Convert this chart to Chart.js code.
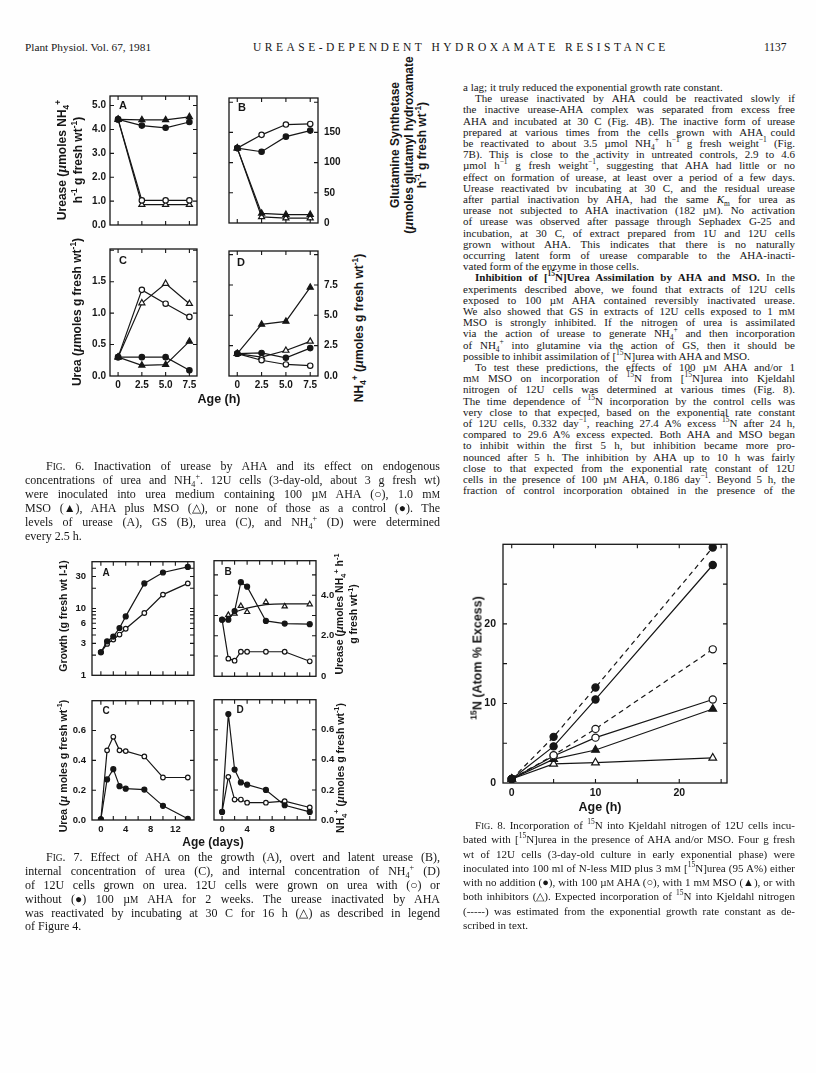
<!DOCTYPE html>
<html>
<head>
<meta charset="utf-8">
<script src="https://cdn.jsdelivr.net/npm/chart.js@4.4.1/dist/chart.umd.min.js"></script>
<style>
body { margin: 0; background: #fff; }
#page { position: relative; width: 816px; height: 1073px; overflow: hidden; background: #fefefe; color: #161616;
        font-family: "Liberation Serif", "Times New Roman", serif; }
.ln { position: absolute; white-space: nowrap; line-height: 1; }
.ln sup, .ln sub { font-size: 0.68em; line-height: 0; }
.sc { font-size: 0.78em; }
.ttl { position: absolute; white-space: nowrap; text-align: center; font-family: "Liberation Sans", Arial, sans-serif;
       font-weight: bold; font-size: 12px; line-height: 15px; transform: translate(-50%, -50%) rotate(-90deg); }
.ttl sup, .ttl sub { font-size: 0.7em; line-height: 0; }
.xt { position: absolute; white-space: nowrap; font-family: "Liberation Sans", Arial, sans-serif; font-weight: bold;
      font-size: 12.5px; transform: translate(-50%, -50%); }
canvas { position: absolute; }
</style>
</head>
<body>
<div id="page"></div>
<script>
// ---- Fig. 6 : age in hours ----
const ageH = [0, 2.5, 5.0, 7.5];
const ureaseCtrl6 = [4.42, 4.16, 4.07, 4.31];
const ureaseAHA6 = [4.42, 1.03, 1.03, 1.03];
const ureaseMSO6 = [4.42, 4.40, 4.40, 4.53];
const ureaseBoth6 = [4.42, 0.85, 0.85, 0.85];
const gsCtrl6 = [124, 118, 143, 153];
const gsAHA6 = [124, 146, 163, 164];
const gsMSO6 = [124, 16, 14, 14];
const gsBoth6 = [124, 10, 8, 8];
const ureaCtrl6 = [0.30, 0.30, 0.30, 0.09];
const ureaAHA6 = [0.30, 1.37, 1.15, 0.94];
const ureaMSO6 = [0.30, 0.17, 0.18, 0.55];
const ureaBoth6 = [0.30, 1.16, 1.47, 1.15];
const nh4Ctrl6 = [1.84, 1.90, 1.50, 2.30];
const nh4AHA6 = [1.84, 1.30, 0.95, 0.85];
const nh4MSO6 = [1.84, 4.25, 4.50, 7.30];
const nh4Both6 = [1.84, 1.55, 2.10, 2.85];

// ---- Fig. 7 : age in days ----
const ageD = [0, 1, 2, 3, 4, 7, 10, 14];
const growthCtrl7 = [2.21, 3.22, 3.8, 5.1, 7.6, 23.7, 34.5, 41.8];
const growthAHA7 = [2.21, 2.95, 3.42, 4.07, 4.97, 8.55, 16.1, 23.7];
const ureaseCtrl7 = [2.79, 2.79, 3.22, 4.64, 4.42, 2.73, 2.60, 2.57];
const ureaseAHA7 = [2.79, 0.87, 0.77, 1.21, 1.21, 1.21, 1.21, 0.74];
const reactDays = [1, 2, 3, 4, 7, 10, 14];
const ureaseReact7 = [3.03, 3.09, 3.47, 3.17, 3.66, 3.45, 3.55];
const curveDays = [2, 4, 7, 10, 14];
const ureaseCurve7 = [3.16, 3.36, 3.53, 3.57, 3.57];
const ureaCtrl7 = [0.005, 0.272, 0.341, 0.227, 0.21, 0.204, 0.095, 0.008];
const ureaAHA7 = [0.005, 0.467, 0.558, 0.467, 0.462, 0.426, 0.285, 0.285];
const nh4Ctrl7 = [0.054, 0.705, 0.335, 0.25, 0.235, 0.20, 0.098, 0.054];
const nh4AHA7 = [0.054, 0.287, 0.136, 0.136, 0.115, 0.115, 0.125, 0.083];

// ---- Fig. 8 : age in hours ----
const ageH8 = [0, 5, 10, 24];
const n15CtrlExp = [0.5, 5.8, 12.0, 29.6];
const n15Ctrl = [0.5, 4.6, 10.5, 27.4];
const n15AHAExp = [0.5, 3.5, 6.8, 16.8];
const n15AHA = [0.5, 3.4, 5.7, 10.5];
const n15MSO = [0.5, 3.0, 4.15, 9.3];
const n15Both = [0.5, 2.4, 2.55, 3.15];

// ---- tick values / labels ----
const ticksH6 = [0, 2.5, 5, 7.5];
const labelsH6 = ['0', '2.5', '5.0', '7.5'];
const ticksUrease6 = [0, 1, 2, 3, 4, 5];
const labelsUrease6 = ['0.0', '1.0', '2.0', '3.0', '4.0', '5.0'];
const ticksGS6 = [0, 50, 100, 150, 200];
const labelsGS6 = ['0', '50', '100', '150', ''];
const ticksUrea6 = [0, 0.5, 1.0, 1.5, 2.0];
const labelsUrea6 = ['0.0', '0.5', '1.0', '1.5', ''];
const ticksNH46 = [0, 2.5, 5, 7.5, 10];
const labelsNH46 = ['0.0', '2.5', '5.0', '7.5', ''];
const ticksD7 = [0, 2, 4, 6, 8, 10, 12, 14];
const labelsD7C = ['0', '', '4', '', '8', '', '12', ''];
const labelsD7D = ['0', '', '4', '', '8', '', '', ''];
const ticksGrowth7 = [1, 2, 3, 4, 5, 6, 7, 8, 9, 10, 20, 30, 40, 50];
const labelsGrowth7 = ['1', '', '3', '', '', '6', '', '', '', '10', '', '30', '', ''];
const ticksUrease7 = [0, 1, 2, 3, 4, 5];
const labelsUrease7 = ['0', '', '2.0', '', '4.0', ''];
const ticksConc7 = [0, 0.2, 0.4, 0.6, 0.8];
const labelsConc7 = ['0.0', '0.2', '0.4', '0.6', ''];
const ticksH8 = [0, 5, 10, 15, 20, 25];
const labelsH8 = ['0', '', '10', '', '20', ''];
const ticksN8 = [0, 5, 10, 15, 20, 25, 30];
const labelsN8 = ['0', '', '10', '', '20', '', ''];

const K = '#161616';
const SANS = '"Liberation Sans", Arial, sans-serif';
const page = document.getElementById('page');

// frame with inward ticks on all four sides + panel letter
const framePlugin = {
    id: 'frame',
    afterDraw(chart, args, o) {
        const ctx = chart.ctx, a = chart.chartArea;
        const sx = chart.scales.x, sy = chart.scales.y;
        ctx.save();
        ctx.strokeStyle = K;
        ctx.lineWidth = 1.3;
        ctx.strokeRect(a.left, a.top, a.right - a.left, a.bottom - a.top);
        ctx.lineWidth = 1.1;
        ctx.beginPath();
        const L = o.len || 4;
        sx.ticks.forEach(t => {
            const p = sx.getPixelForValue(t.value);
            if (p <= a.left + 1 || p >= a.right - 1) return;
            ctx.moveTo(p, a.bottom); ctx.lineTo(p, a.bottom - L);
            ctx.moveTo(p, a.top); ctx.lineTo(p, a.top + L);
        });
        sy.ticks.forEach(t => {
            const p = sy.getPixelForValue(t.value);
            if (p <= a.top + 1 || p >= a.bottom - 1) return;
            ctx.moveTo(a.left, p); ctx.lineTo(a.left + L, p);
            ctx.moveTo(a.right, p); ctx.lineTo(a.right - L, p);
        });
        ctx.stroke();
        if (o.letter) {
            ctx.fillStyle = K;
            ctx.font = 'bold ' + (o.lfs || 11) + 'px ' + SANS;
            ctx.textBaseline = 'middle';
            ctx.textAlign = 'center';
            ctx.fillText(o.letter, a.left + o.lx, a.top + o.ly);
        }
        ctx.restore();
    }
};

function series(xs, ys, kind, r, extra) {
    const tri = kind[1] === 't';
    return Object.assign({
        data: xs.map((x, i) => ({ x: x, y: ys[i] })),
        showLine: true,
        borderColor: K,
        borderWidth: 1.2,
        pointStyle: tri ? 'triangle' : 'circle',
        pointBackgroundColor: kind[0] === 'f' ? K : '#fff',
        pointBorderColor: K,
        pointBorderWidth: 1.2,
        pointRadius: tri ? r * 1.3 : r,
        tension: 0
    }, extra || {});
}

function axis(which, a, size, pos) {
    return {
        type: a.log ? 'logarithmic' : 'linear',
        position: which === 'x' ? 'bottom' : (pos || 'left'),
        min: a.min,
        max: a.max,
        afterBuildTicks: s => { s.ticks = a.ticks.map(v => ({ value: v })); },
        afterFit: s => { if (which === 'x') s.height = size; else s.width = size; },
        grid: { display: false, drawTicks: false },
        border: { display: false },
        ticks: {
            display: !!a.labels,
            autoSkip: false,
            maxRotation: 0,
            padding: a.pad || 4,
            color: K,
            font: { family: SANS, weight: 'bold', size: a.fs || 10 },
            callback: (v, i) => a.labels ? a.labels[i] : ''
        }
    };
}

// f = [left, top, right, bottom] of the plot frame, m = [top, right, bottom, left] margins
function panel(f, m, o) {
    const c = document.createElement('canvas');
    const fw = f[2] - f[0], fh = f[3] - f[1];
    const w = fw + m[1] + m[3], h = fh + m[0] + m[2];
    c.width = w; c.height = h;
    c.style.left = (f[0] - m[3]) + 'px';
    c.style.top = (f[1] - m[0]) + 'px';
    c.style.width = w + 'px';
    c.style.height = h + 'px';
    page.appendChild(c);
    const right = o.yPos === 'right';
    new Chart(c, {
        type: 'scatter',
        data: { datasets: o.datasets },
        options: {
            responsive: false,
            animation: false,
            layout: { padding: { top: m[0], right: right ? 0 : m[1], bottom: 0, left: right ? m[3] : 0 } },
            plugins: {
                legend: { display: false },
                tooltip: { enabled: false },
                frame: { letter: o.letter, lx: o.lx, ly: o.ly, lfs: o.lfs }
            },
            scales: {
                x: axis('x', o.x, m[2]),
                y: axis('y', o.y, right ? m[1] : m[3], o.yPos)
            }
        },
        plugins: [framePlugin]
    });
}

// ---------- Fig. 6 ----------
const x6 = { min: -0.85, max: 8.3, ticks: ticksH6 };
const x6l = Object.assign({}, x6, { labels: labelsH6, pad: 3 });
panel([110, 92, 197, 231], [6, 6, 4, 30], {
    letter: 'A', lx: 13, ly: 10, x: x6,
    y: { min: 0, max: 5.4, ticks: ticksUrease6, labels: labelsUrease6 },
    datasets: [
        series(ageH, ureaseCtrl6, 'fc', 2.7),
        series(ageH, ureaseMSO6, 'ft', 2.7),
        series(ageH, ureaseAHA6, 'oc', 2.7),
        series(ageH, ureaseBoth6, 'ot', 2.7)
    ]
});
panel([229, 92, 318, 231], [6, 30, 4, 6], {
    letter: 'B', lx: 13, ly: 10, x: x6, yPos: 'right',
    y: { min: 0, max: 207, ticks: ticksGS6, labels: labelsGS6, pad: 6 },
    datasets: [
        series(ageH, gsCtrl6, 'fc', 2.7),
        series(ageH, gsAHA6, 'oc', 2.7),
        series(ageH, gsMSO6, 'ft', 2.7),
        series(ageH, gsBoth6, 'ot', 2.7)
    ]
});
panel([110, 245, 197, 376], [6, 6, 18, 30], {
    letter: 'C', lx: 13, ly: 12, x: x6l,
    y: { min: 0, max: 2.02, ticks: ticksUrea6, labels: labelsUrea6 },
    datasets: [
        series(ageH, ureaCtrl6, 'fc', 2.7),
        series(ageH, ureaAHA6, 'oc', 2.7),
        series(ageH, ureaMSO6, 'ft', 2.7),
        series(ageH, ureaBoth6, 'ot', 2.7)
    ]
});
panel([229, 245, 318, 376], [6, 30, 18, 6], {
    letter: 'D', lx: 12, ly: 12, x: x6l, yPos: 'right',
    y: { min: 0, max: 10.3, ticks: ticksNH46, labels: labelsNH46, pad: 6 },
    datasets: [
        series(ageH, nh4Ctrl6, 'fc', 2.7),
        series(ageH, nh4AHA6, 'oc', 2.7),
        series(ageH, nh4MSO6, 'ft', 2.7),
        series(ageH, nh4Both6, 'ot', 2.7)
    ]
});

// ---------- Fig. 7 ----------
const x7a = { min: -1.43, max: 15.0, ticks: ticksD7 };
const x7b = { min: -1.29, max: 15.0, ticks: ticksD7 };
panel([92, 556, 194, 683], [6, 6, 4, 30], {
    letter: 'A', lx: 14, ly: 12, lfs: 10, x: x7a,
    y: { log: true, min: 1, max: 50, ticks: ticksGrowth7, labels: labelsGrowth7, pad: 6, fs: 9.5 },
    datasets: [
        series(ageD, growthCtrl7, 'fc', 2.5),
        series(ageD, growthAHA7, 'oc', 2.3)
    ]
});
panel([214, 556, 316, 683], [6, 30, 4, 6], {
    letter: 'B', lx: 14, ly: 12, lfs: 10, x: x7b, yPos: 'right',
    y: { min: 0, max: 5.7, ticks: ticksUrease7, labels: labelsUrease7, pad: 5, fs: 9.5 },
    datasets: [
        series(ageD, ureaseCtrl7, 'fc', 2.5),
        series(ageD, ureaseAHA7, 'oc', 2.3),
        series(reactDays, ureaseReact7, 'ot', 2.3, { showLine: false }),
        series(curveDays, ureaseCurve7, 'oc', 0, { pointRadius: 0, cubicInterpolationMode: 'monotone' })
    ]
});
panel([92, 695, 194, 820], [6, 6, 20, 30], {
    letter: 'C', lx: 14, ly: 11, lfs: 10, x: Object.assign({}, x7a, { labels: labelsD7C, pad: 4, fs: 9.5 }),
    y: { min: 0, max: 0.8, ticks: ticksConc7, labels: labelsConc7, pad: 6, fs: 9.5 },
    datasets: [
        series(ageD, ureaCtrl7, 'fc', 2.5),
        series(ageD, ureaAHA7, 'oc', 2.3)
    ]
});
panel([214, 695, 316, 820], [6, 30, 20, 6], {
    letter: 'D', lx: 26, ly: 11, lfs: 10, x: Object.assign({}, x7b, { labels: labelsD7D, pad: 4, fs: 9.5 }), yPos: 'right',
    y: { min: 0, max: 0.8, ticks: ticksConc7, labels: labelsConc7, pad: 5, fs: 9.5 },
    datasets: [
        series(ageD, nh4Ctrl7, 'fc', 2.5),
        series(ageD, nh4AHA7, 'oc', 2.3)
    ]
});

// ---------- Fig. 8 ----------
panel([503, 537, 727, 783], [6, 6, 20, 30], {
    x: { min: -1.04, max: 25.7, ticks: ticksH8, labels: labelsH8, pad: 4, fs: 10.5 },
    y: { min: 0, max: 30, ticks: ticksN8, labels: labelsN8, pad: 7, fs: 10.5 },
    datasets: [
        series(ageH8, n15CtrlExp, 'fc', 3.6, { borderDash: [5, 4] }),
        series(ageH8, n15Ctrl, 'fc', 3.6),
        series(ageH8, n15AHAExp, 'oc', 3.6, { borderDash: [5, 4] }),
        series(ageH8, n15AHA, 'oc', 3.6),
        series(ageH8, n15MSO, 'ft', 3.4),
        series(ageH8, n15Both, 'ot', 3.4)
    ]
});

// ---------- axis titles ----------
function title(html, cx, cy, lh, fs) {
    const d = document.createElement('div');
    d.className = 'ttl';
    d.innerHTML = html;
    d.style.left = cx + 'px';
    d.style.top = cy + 'px';
    if (lh) d.style.lineHeight = lh + 'px';
    if (fs) d.style.fontSize = fs + 'px';
    page.appendChild(d);
}
function xtitle(html, cx, cy, fs) {
    const d = document.createElement('div');
    d.className = 'xt';
    d.innerHTML = html;
    d.style.left = cx + 'px';
    d.style.top = cy + 'px';
    if (fs) d.style.fontSize = fs + 'px';
    page.appendChild(d);
}
const mu = '<i style="font-family:\'Liberation Serif\';font-size:1.15em">µ</i>';
title('Urease (' + mu + 'moles NH<sub>4</sub><sup>+</sup><br>h<sup>-1</sup> g fresh wt<sup>-1</sup>)', 70, 160, 16);
title('Urea (' + mu + 'moles g fresh wt<sup>-1</sup>)', 77, 312);
title('Glutamine Synthetase<br>(' + mu + 'moles glutamyl hydroxamate<br>h<sup>-1</sup> g fresh wt<sup>-1</sup>)', 409, 145, 13);
title('NH<sub>4</sub><sup>+</sup> (' + mu + 'moles g fresh wt<sup>-1</sup>)', 359, 328);
xtitle('Age (h)', 219, 399);

title('Growth (g fresh wt l-1)', 63, 616, 0, 10.5);
title('Urea (' + mu + ' moles g fresh wt<sup>-1</sup>)', 63, 766, 0, 10.5);
title('Urease (' + mu + 'moles NH<sub>4</sub><sup>+</sup> h<sup>-1</sup><br>g fresh wt<sup>-1</sup>)', 346, 614, 14, 10.5);
title('NH<sub>4</sub><sup>+</sup> (' + mu + 'moles g fresh wt<sup>-1</sup>)', 340, 768, 0, 10.5);
xtitle('Age (days)', 213, 842, 12);

title('<sup>15</sup>N (Atom % Excess)', 478, 658, 15, 12.5);
xtitle('Age (h)', 600, 807);

// ---------- page text ----------
function lines(arr, x, y0, dy, w, fs, indent) {
    arr.forEach((s, i) => {
        let ind = 0, just = true;
        if (s[0] === '>') { ind = indent; s = s.slice(1); }
        if (s[0] === '|') { just = false; s = s.slice(1); }
        const d = document.createElement('div');
        d.className = 'ln';
        d.style.left = (x + ind) + 'px';
        d.style.top = (y0 + i * dy - fs * 0.55) + 'px';
        d.style.fontSize = fs + 'px';
        d.innerHTML = s;
        page.appendChild(d);
        if (just) {
            const nat = d.getBoundingClientRect().width;
            const n = (d.textContent.match(/ /g) || []).length;
            if (n) d.style.wordSpacing = ((w - ind - nat) / n) + 'px';
        }
    });
}
const uM = 'µ<span class="sc">M</span>', mM = 'm<span class="sc">M</span>';
const NH4 = 'NH<sub>4</sub><sup>+</sup>';
const FIG = 'F<span class="sc">IG</span>.';

lines(['|Plant Physiol. Vol. 67, 1981'], 25, 48, 0, 0, 11.3, 0);
const head = document.createElement('div');
head.className = 'ln';
head.style.cssText = 'left:253px;top:42px;font-size:11.5px;letter-spacing:3.5px;';
head.textContent = 'UREASE-DEPENDENT HYDROXAMATE RESISTANCE';
page.appendChild(head);
lines(['|1137'], 764, 48, 0, 0, 11.5, 0);

lines([
    '|a lag; it truly reduced the exponential growth rate constant.',
    '>The urease inactivated by AHA could be reactivated slowly if',
    'the inactive urease-AHA complex was separated from excess free',
    'AHA and incubated at 30 C (Fig. 4B). The inactive form of urease',
    'prepared at various times from the cells grown with AHA could',
    'be reactivated to about 3.5 µmol ' + NH4 + ' h<sup>−1</sup> g fresh weight<sup>−1</sup> (Fig.',
    '7B). This is close to the activity in untreated controls, 2.9 to 4.6',
    'µmol h<sup>−1</sup> g fresh weight<sup>−1</sup>, suggesting that AHA had little or no',
    'effect on formation of urease, at least over a period of a few days.',
    'Urease reactivated bv incubating at 30 C, and the residual urease',
    'after partial inactivation by AHA, had the same <i>K</i><sub>m</sub> for urea as',
    'urease not subjected to AHA inactivation (182 ' + uM + '). No activation',
    'of urease was observed after passage through Sephadex G-25 and',
    'incubation, at 30 C, of extract prepared from 1U and 12U cells',
    'grown without AHA. This indicates that there is no naturally',
    'occurring latent form of urease comparable to the AHA-inacti-',
    '|vated form of the enzyme in those cells.',
    '><b>Inhibition of [<sup>15</sup>N]Urea Assimilation by AHA and MSO.</b> In the',
    'experiments described above, we found that extracts of 12U cells',
    'exposed to 100 ' + uM + ' AHA contained reversibly inactivated urease.',
    'We also showed that GS in extracts of 12U cells exposed to 1 ' + mM,
    'MSO is strongly inhibited. If the nitrogen of urea is assimilated',
    'via the action of urease to generate ' + NH4 + ' and then incorporation',
    'of ' + NH4 + ' into glutamine via the action of GS, then it should be',
    '|possible to inhibit assimilation of [<sup>15</sup>N]urea with AHA and MSO.',
    '>To test these predictions, the effects of 100 ' + uM + ' AHA and/or 1',
    mM + ' MSO on incorporation of <sup>15</sup>N from [<sup>15</sup>N]urea into Kjeldahl',
    'nitrogen of 12U cells was determined at various times (Fig. 8).',
    'The time dependence of <sup>15</sup>N incorporation by the control cells was',
    'very close to that expected, based on the exponential rate constant',
    'of 12U cells, 0.332 day<sup>−1</sup>, reaching 27.4 A% excess <sup>15</sup>N after 24 h,',
    'compared to 29.6 A% excess expected. Both AHA and MSO began',
    'to inhibit within the first 5 h, but inhibition became more pro-',
    'nounced after 5 h. The inhibition by AHA up to 10 h was fairly',
    'close to that expected from the exponential rate constant of 12U',
    'cells in the presence of 100 ' + uM + ' AHA, 0.186 day<sup>−1</sup>. Beyond 5 h, the',
    'fraction of control incorporation obtained in the presence of the'
], 463, 88, 11.2, 332, 11, 12);

lines([
    '>' + FIG + ' 6. Inactivation of urease by AHA and its effect on endogenous',
    'concentrations of urea and ' + NH4 + '. 12U cells (3-day-old, about 3 g fresh wt)',
    'were inoculated into urea medium containing 100 ' + uM + ' AHA (○), 1.0 ' + mM,
    'MSO (▲), AHA plus MSO (△), or none of those as a control (●). The',
    'levels of urease (A), GS (B), urea (C), and ' + NH4 + ' (D) were determined',
    '|every 2.5 h.'
], 25, 467, 14, 415, 12, 21);

lines([
    '>' + FIG + ' 7. Effect of AHA on the growth (A), overt and latent urease (B),',
    'internal concentration of urea (C), and internal concentration of ' + NH4 + ' (D)',
    'of 12U cells grown on urea. 12U cells were grown on urea with (○) or',
    'without (●) 100 ' + uM + ' AHA for 2 weeks. The urease inactivated by AHA',
    'was reactivated by incubating at 30 C for 16 h (△) as described in legend',
    '|of Figure 4.'
], 25, 858, 13.8, 415, 12, 21);

lines([
    '>' + FIG + ' 8. Incorporation of <sup>15</sup>N into Kjeldahl nitrogen of 12U cells incu-',
    'bated with [<sup>15</sup>N]urea in the presence of AHA and/or MSO. Four g fresh',
    'wt of 12U cells (3-day-old culture in early exponential phase) were',
    'inoculated into 100 ml of N-less MID plus 3 ' + mM + ' [<sup>15</sup>N]urea (95 A%) either',
    'with no addition (●), with 100 ' + uM + ' AHA (○), with 1 ' + mM + ' MSO (▲), or with',
    'both inhibitors (△). Expected incorporation of <sup>15</sup>N into Kjeldahl nitrogen',
    '(-----) was estimated from the exponential growth rate constant as de-',
    '|scribed in text.'
], 463, 826, 14.3, 332, 11, 12);
</script>
</body>
</html>
